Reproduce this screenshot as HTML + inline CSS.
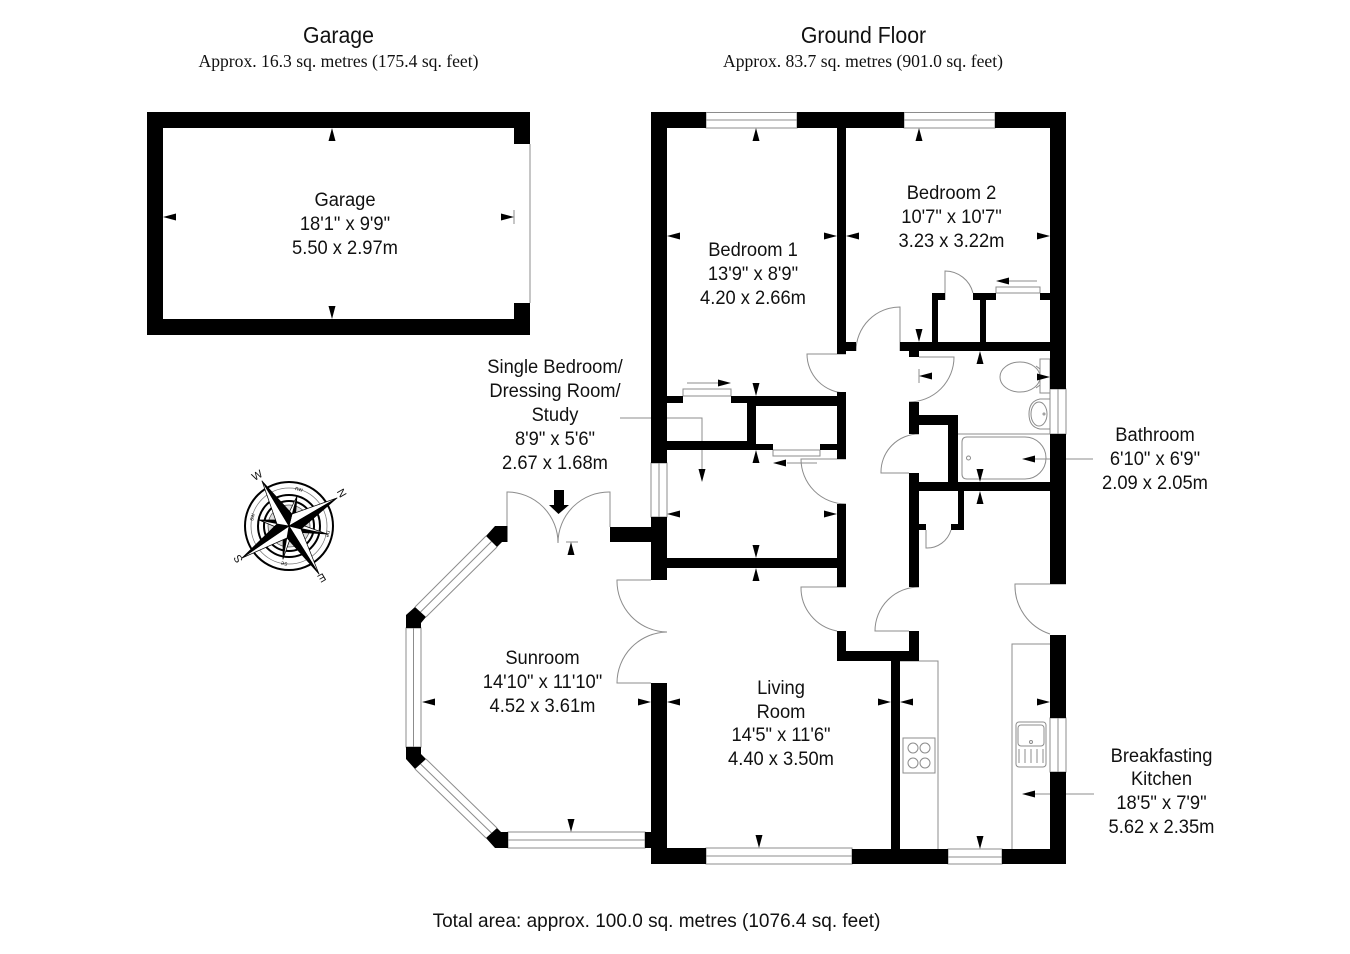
<!DOCTYPE html>
<html>
<head>
<meta charset="utf-8">
<style>
html,body{margin:0;padding:0;background:#fff;width:1350px;height:954px;overflow:hidden}
svg{display:block}
text{font-family:"Liberation Sans",sans-serif;font-size:19.5px;fill:#111;text-anchor:middle}
.t{font-size:23px}
.a{font-size:19.6px}
.s{font-family:"Liberation Serif",serif;font-size:17.6px}
.thin{fill:none;stroke:#8c8c8c;stroke-width:1}
</style>
</head>
<body>
<svg width="1350" height="954" viewBox="0 0 1350 954" xmlns="http://www.w3.org/2000/svg">
<rect width="1350" height="954" fill="#fff"/>

<!-- Titles -->
<text class="t" transform="translate(338.500 43) scale(.925 1)">Garage</text>
<text class="s" x="338.500" y="67">Approx. 16.3 sq. metres (175.4 sq. feet)</text>
<text class="t" transform="translate(863.500 43) scale(.925 1)">Ground Floor</text>
<text class="s" x="863" y="67">Approx. 83.7 sq. metres (901.0 sq. feet)</text>

<!-- thin lines, doors, fixtures -->
<g class="thin">
  <!-- garage -->
  <path d="M530 144V303M514 210V224"/>
  <!-- windows -->
  <rect x="706" y="112.5" width="91" height="15.5"/><path d="M706 120H797"/>
  <rect x="904" y="112.5" width="91" height="15.5"/><path d="M904 120H995"/>
  <rect x="706" y="848" width="146" height="16"/><path d="M706 856H852"/>
  <rect x="948" y="849" width="54" height="15"/><path d="M948 857H1002"/>
  <rect x="651" y="463" width="16" height="54"/><path d="M659 463V517"/>
  <rect x="1050" y="389" width="16" height="45"/><path d="M1058 389V434"/>
  <rect x="1050" y="718" width="16" height="54"/><path d="M1058 718V772"/>
  <!-- sunroom windows -->
  <rect x="406" y="628" width="15" height="119"/><path d="M413.5 628V747"/>
  <rect x="508" y="832" width="137" height="16"/><path d="M508 840H645"/>
  <path d="M486 536L415 607M497 547L426 617M491.500 541.500L420.500 612"/>
  <path d="M426 759L497 828M415 769L486 838M420.500 764L491.500 833"/>
  <!-- doors -->
  <path d="M900 351V307A44 44 0 0 0 856 351"/>
  <path d="M846 354H807A39 39 0 0 0 846 393"/>
  <path d="M919 357H954A45 45 0 0 1 909 402"/>
  <path d="M846 459H801A45 45 0 0 0 846 504"/>
  <path d="M846 587H801A44 44 0 0 0 837 631"/>
  <path d="M909 631H875A44 44 0 0 1 919 587"/>
  <path d="M909 473H881A38 38 0 0 1 919 434"/>
  <path d="M926 530V548A25 25 0 0 0 951 530"/>
  <path d="M945 300V271A29 29 0 0 1 973 293"/>
  <path d="M1066 584H1015A51 51 0 0 0 1050 634"/>
  <path d="M651 580H617A51 51 0 0 0 667 632A51 51 0 0 0 617 683H651"/>
  <path d="M507 526V492A51 51 0 0 1 558 543A51 51 0 0 1 610 492V527"/>
  <path d="M566 542H578"/>
  <!-- closet fronts -->
  <path d="M683 396V389H731V396M683 396H731"/>
  <path d="M773 450V456H820V450M773 450H820"/>
  <path d="M996 293V287H1040V293M996 293H1040"/>
  <path d="M687 383H720M787 463H817M1007 281H1037"/>
  <!-- leaders -->
  <path d="M620 418H702V472"/>
  <path d="M1030 459H1093M1030 794H1094M919 369V383"/>
  <!-- bathroom -->
  <path d="M958 434H1050"/>
  <path d="M967 437H1025A21 21 0 0 1 1046 458A21 21 0 0 1 1025 479H967Q962 479 962 474V442Q962 437 967 437Z"/>
  <circle cx="968.500" cy="458" r="2"/>
  <ellipse cx="1020" cy="377" rx="20" ry="15"/>
  <path d="M1036 366L1040 369V385L1036 388"/>
  <rect x="1040" y="359" width="10" height="34"/>
  <path d="M1050 399H1040Q1029 401 1029 414Q1029 427 1040 429H1050"/>
  <ellipse cx="1039" cy="414" rx="8" ry="12"/>
  <circle cx="1044" cy="414" r="1"/>
  <!-- kitchen -->
  <path d="M900 661H938V849"/>
  <rect x="903" y="738" width="32" height="35"/>
  <circle cx="913" cy="748" r="5"/><circle cx="925" cy="748" r="5"/>
  <circle cx="913" cy="763" r="5"/><circle cx="925" cy="763" r="5"/>
  <path d="M1050 644H1012V849"/>
  <rect x="1016" y="722" width="30" height="45" rx="3"/>
  <rect x="1018" y="725" width="26" height="21" rx="3"/>
  <circle cx="1031" cy="742" r="1.500"/>
  <path d="M1019 749V763M1025 749V763M1031 749V763M1037 749V763M1043 749V763"/>
</g>

<!-- Walls -->
<g fill="#000">
  <!-- Garage -->
  <path d="M147 112H530V144H514V128H163V319H514V303H530V335H147Z"/>
  <!-- Outer -->
  <rect x="651" y="112" width="55" height="16"/>
  <rect x="797" y="112" width="107" height="16"/>
  <rect x="995" y="112" width="71" height="16"/>
  <rect x="651" y="112" width="16" height="351"/>
  <rect x="651" y="517" width="16" height="63"/>
  <rect x="651" y="683" width="16" height="181"/>
  <rect x="1050" y="112" width="16" height="277"/>
  <rect x="1050" y="434" width="16" height="150"/>
  <rect x="1050" y="635" width="16" height="83"/>
  <rect x="1050" y="772" width="16" height="92"/>
  <rect x="651" y="848" width="55" height="16"/>
  <rect x="852" y="849" width="96" height="15"/>
  <rect x="1002" y="849" width="64" height="15"/>
  <rect x="610" y="527" width="41" height="15"/>
  <rect x="645" y="832" width="6" height="16"/>
  <!-- Bedrooms divider -->
  <rect x="837" y="128" width="9" height="226"/>
  <rect x="846" y="342" width="10" height="9"/>
  <rect x="900" y="342" width="150" height="9"/>
  <rect x="909" y="351" width="10" height="6"/>
  <rect x="932" y="293" width="6" height="49"/>
  <rect x="932" y="293" width="13" height="7"/>
  <rect x="973" y="293" width="23" height="7"/>
  <rect x="980" y="293" width="6" height="49"/>
  <rect x="1040" y="293" width="10" height="7"/>
  <!-- Single room upper walls -->
  <rect x="667" y="396" width="16" height="7"/>
  <rect x="731" y="396" width="16" height="7"/>
  <rect x="747" y="396" width="90" height="10"/>
  <rect x="747" y="396" width="9" height="54"/>
  <rect x="667" y="441" width="80" height="9"/>
  <rect x="756" y="444" width="17" height="6"/>
  <rect x="820" y="444" width="17" height="6"/>
  <rect x="837" y="392" width="9" height="67"/>
  <rect x="837" y="504" width="9" height="83"/>
  <rect x="667" y="558" width="170" height="10"/>
  <rect x="837" y="631" width="9" height="30"/>
  <rect x="837" y="651" width="82" height="10"/>
  <rect x="909" y="631" width="10" height="30"/>
  <rect x="891" y="661" width="9" height="188"/>
  <!-- Hall right wall -->
  <rect x="909" y="402" width="10" height="32"/>
  <rect x="909" y="473" width="10" height="114"/>
  <rect x="919" y="415" width="39" height="10"/>
  <rect x="948" y="415" width="10" height="76"/>
  <rect x="909" y="482" width="141" height="9"/>
  <rect x="958" y="491" width="6" height="39"/>
  <rect x="951" y="524" width="13" height="6"/>
  <rect x="919" y="524" width="7" height="6"/>
  <!-- Sunroom posts -->
  <polygon points="507.500,526 495,526 486,536 497,547 502,542 507.500,542"/>
  <polygon points="415,607 426,617 421,623 421,628 406,628 406,615"/>
  <polygon points="406,747 421,747 421,754 426,759 415,769 406,759"/>
  <polygon points="497,828 486,838 495,848 508,848 508,832 501,832"/>
  <!-- thick entrance arrow -->
  <polygon points="554,490 564,490 564,505 569,505 558.500,514 549,505 554,505"/>
</g>

<!-- Dimension arrows -->
<g fill="#000">
  <!-- up -->
  <polygon points="332,128 328.500,141 335.500,141"/>
  <polygon points="756,128 752.500,141 759.500,141"/>
  <polygon points="919,128 915.500,141 922.500,141"/>
  <polygon points="980,351 976.500,364 983.500,364"/>
  <polygon points="980,491 976.500,504 983.500,504"/>
  <polygon points="756,450 752.500,463 759.500,463"/>
  <polygon points="756,568 752.500,581 759.500,581"/>
  <polygon points="571,542 567.500,555 574.500,555"/>
  <!-- down -->
  <polygon points="332,319 328.500,306 335.500,306"/>
  <polygon points="756,396 752.500,383 759.500,383"/>
  <polygon points="919,342 915.500,329 922.500,329"/>
  <polygon points="980,482 976.500,469 983.500,469"/>
  <polygon points="756,558 752.500,545 759.500,545"/>
  <polygon points="702,482 698.500,469 705.500,469"/>
  <polygon points="571,832 567.500,819 574.500,819"/>
  <polygon points="759,848 755.500,835 762.500,835"/>
  <polygon points="980,849 976.500,836 983.500,836"/>
  <!-- left -->
  <polygon points="163,217 176,213.500 176,220.500"/>
  <polygon points="667,236 680,232.500 680,239.500"/>
  <polygon points="846,236 859,232.500 859,239.500"/>
  <polygon points="919,376 932,372.500 932,379.500"/>
  <polygon points="667,514 680,510.500 680,517.500"/>
  <polygon points="422,702 435,698.500 435,705.500"/>
  <polygon points="667,702 680,698.500 680,705.500"/>
  <polygon points="900,702 913,698.500 913,705.500"/>
  <polygon points="1022,459 1035,455.500 1035,462.500"/>
  <polygon points="1022,794 1035,790.500 1035,797.500"/>
  <polygon points="773,463 786,459.500 786,466.500"/>
  <polygon points="996,281 1009,277.500 1009,284.500"/>
  <!-- right -->
  <polygon points="514,217 501,213.500 501,220.500"/>
  <polygon points="837,236 824,232.500 824,239.500"/>
  <polygon points="1050,236 1037,232.500 1037,239.500"/>
  <polygon points="1050,377 1037,373.500 1037,380.500"/>
  <polygon points="837,514 824,510.500 824,517.500"/>
  <polygon points="651,702 638,698.500 638,705.500"/>
  <polygon points="891,702 878,698.500 878,705.500"/>
  <polygon points="1050,702 1037,698.500 1037,705.500"/>
  <polygon points="731,383 718,379.500 718,386.500"/>
</g>

<!-- Compass -->
<g transform="translate(289 526)">
  <circle r="44" fill="#fff" stroke="#000" stroke-width="2"/>
  <circle r="38" fill="none" stroke="#777" stroke-width="0.800"/>
  <circle r="31" fill="none" stroke="#000" stroke-width="2"/>
  <circle r="25" fill="none" stroke="#000" stroke-width="2"/>
  <circle r="21" fill="#ddd" stroke="#555" stroke-width="0.800"/>
  <g stroke="#000" stroke-width="0.700" stroke-linejoin="round">
    <polygon fill="#000" points="0,0 8,-30 6,-3.500"/><polygon fill="#fff" points="0,0 8,-30 -3.500,-6"/>
    <polygon fill="#000" points="0,0 38,8 3.500,6"/><polygon fill="#fff" points="0,0 38,8 6,-3.500"/>
    <polygon fill="#000" points="0,0 -6,33 -6,4"/><polygon fill="#fff" points="0,0 -6,33 3.500,6"/>
    <polygon fill="#000" points="0,0 -30,-6 -3.500,-6"/><polygon fill="#fff" points="0,0 -30,-6 -6,4"/>
    <polygon fill="#fff" points="0,0 48,-28 3,-12"/><polygon fill="#000" points="0,0 48,-28 12,3"/>
    <polygon fill="#fff" points="0,0 30,48 12,3"/><polygon fill="#000" points="0,0 30,48 -2,12"/>
    <polygon fill="#fff" points="0,0 -47,32 -2,12"/><polygon fill="#000" points="0,0 -47,32 -12,-2"/>
    <polygon fill="#fff" points="0,0 -27,-45 -12,-2"/><polygon fill="#000" points="0,0 -27,-45 3,-12"/>
  </g>
</g>
<g fill="#222">
  <text x="257" y="479" style="font-size:11px" transform="rotate(-30 257 475)">W</text>
  <text x="342" y="497" style="font-size:11px" transform="rotate(60 342 493)">N</text>
  <text x="238" y="563" style="font-size:11px" transform="rotate(-120 238 559)">S</text>
  <text x="322" y="582" style="font-size:11px" transform="rotate(150 322 578)">E</text>
  <text x="299" y="491" style="font-size:6px" transform="rotate(15 299 489)">nw</text>
  <text x="328" y="536" style="font-size:6px" transform="rotate(105 328 534)">ne</text>
  <text x="284" y="566" style="font-size:6px" transform="rotate(195 284 564)">se</text>
  <text x="252" y="519" style="font-size:6px" transform="rotate(-75 252 517)">sw</text>
</g>

<!-- Labels -->
<text transform="translate(345 206) scale(.94 1)">Garage</text>
<text transform="translate(345 230) scale(.94 1)">18'1" x 9'9"</text>
<text transform="translate(345 254) scale(.94 1)">5.50 x 2.97m</text>

<text transform="translate(753 256) scale(.94 1)">Bedroom 1</text>
<text transform="translate(753 280) scale(.94 1)">13'9" x 8'9"</text>
<text transform="translate(753 304) scale(.94 1)">4.20 x 2.66m</text>

<text transform="translate(951.500 199) scale(.94 1)">Bedroom 2</text>
<text transform="translate(951.500 223) scale(.94 1)">10'7" x 10'7"</text>
<text transform="translate(951.500 247) scale(.94 1)">3.23 x 3.22m</text>

<text transform="translate(555 373) scale(.94 1)">Single Bedroom/</text>
<text transform="translate(555 397) scale(.94 1)">Dressing Room/</text>
<text transform="translate(555 421) scale(.94 1)">Study</text>
<text transform="translate(555 445) scale(.94 1)">8'9" x 5'6"</text>
<text transform="translate(555 469) scale(.94 1)">2.67 x 1.68m</text>

<text transform="translate(542.500 664) scale(.94 1)">Sunroom</text>
<text transform="translate(542.500 688) scale(.94 1)">14'10" x 11'10"</text>
<text transform="translate(542.500 712) scale(.94 1)">4.52 x 3.61m</text>

<text transform="translate(781 694) scale(.94 1)">Living</text>
<text transform="translate(781 718) scale(.94 1)">Room</text>
<text transform="translate(781 741) scale(.94 1)">14'5" x 11'6"</text>
<text transform="translate(781 765) scale(.94 1)">4.40 x 3.50m</text>

<text transform="translate(1155 441) scale(.94 1)">Bathroom</text>
<text transform="translate(1155 465) scale(.94 1)">6'10" x 6'9"</text>
<text transform="translate(1155 489) scale(.94 1)">2.09 x 2.05m</text>

<text transform="translate(1161.500 762) scale(.94 1)">Breakfasting</text>
<text transform="translate(1161.500 785) scale(.94 1)">Kitchen</text>
<text transform="translate(1161.500 809) scale(.94 1)">18'5" x 7'9"</text>
<text transform="translate(1161.500 833) scale(.94 1)">5.62 x 2.35m</text>

<text class="a" transform="translate(656.500 927) scale(.97 1)">Total area: approx. 100.0 sq. metres (1076.4 sq. feet)</text>
</svg>
</body>
</html>
